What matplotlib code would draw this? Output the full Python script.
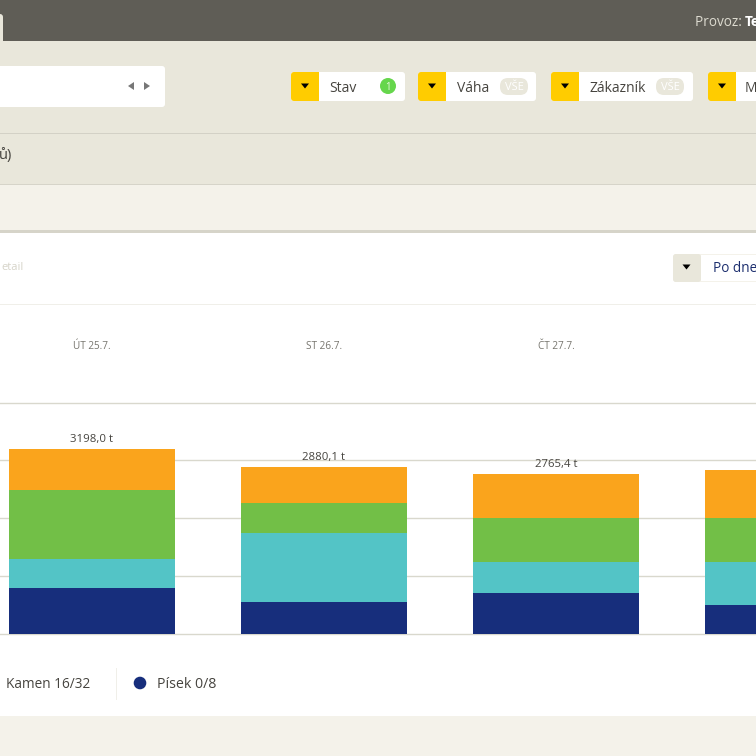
import matplotlib
matplotlib.use('Agg')
from matplotlib import pyplot as plt
from matplotlib.patches import Rectangle, FancyBboxPatch, Circle, Polygon
import numpy as np

# 4th day label falls outside the crop, only its bar shows
days = ['ÚT 25.7.', 'ST 26.7.', 'ČT 27.7.', '']
totals = ['3198,0 t', '2880,1 t', '2765,4 t', '']
pisek = [796, 554, 695, 487]
tealv = [493, 1180, 537, 745]
green = [1202, 530, 766, 766]
orange = [707, 616, 767, 842]
yticks = [0, 1000, 2000, 3000, 4000]

plt.rcParams['font.family'] = ['Open Sans', 'DejaVu Sans']
W = 756
fig = plt.figure(figsize=(W/100, W/100), dpi=100)

# page chrome, drawn in pixel coordinates
bg = fig.add_axes([0, 0, 1, 1])
bg.set_xlim(0, W)
bg.set_ylim(W, 0)
bg.axis('off')

def box(x, y, w, h, c, z=1):
    bg.add_patch(Rectangle((x, y), w, h, fc=c, ec='none', zorder=z))

def rbox(x, y, w, h, c, z=2, r=3):
    bg.add_patch(FancyBboxPatch((x+r, y+r), w-2*r, h-2*r, boxstyle='round,pad=%d' % r, fc=c, ec='none', zorder=z))

def tri(x, y, c='black', s=4):
    bg.add_patch(Polygon([(x-s, y-2.5), (x+s, y-2.5), (x, y+2.5)], fc=c, ec='none', zorder=4))

def filt(x, w, label, tx):
    rbox(x, 72, w, 29, 'white')
    rbox(x, 72, 28, 29, '#ffcc00')
    box(x+20, 72, 8, 29, '#ffcc00', 3)
    tri(x+14, 86)
    bg.text(tx, 88, label, fontsize=10, color='#46443f', va='center', zorder=5)

box(0, 0, W, 41, '#5f5d56')
box(0, 41, W, 92, '#e9e7db')
box(0, 133, W, 52, '#e9e7db')
box(0, 132.5, W, 1.5, '#d3d1c6', 3)
box(0, 184, W, 1.2, '#d6d4c9', 3)
box(0, 185, W, 46, '#f4f2ea')
box(0, 230, W, 2.5, '#d6d4c9', 3)
box(0, 232, W, 484, 'white')
box(0, 716, W, 40, '#f4f2ea')
rbox(-8, 14, 11, 40, '#e9e7db')

bg.text(695, 22, 'Provoz: ', fontsize=9.8, color='#dddbd0', va='center')
bg.text(745, 22, 'Te', fontsize=9.8, color='white', va='center', fontweight='bold', clip_on=True)

rbox(-10, 66, 175, 41, 'white')
bg.add_patch(Polygon([(128, 86), (134, 82), (134, 90)], fc='#777777', ec='none', zorder=4))
bg.add_patch(Polygon([(150, 86), (144, 82), (144, 90)], fc='#777777', ec='none', zorder=4))

filt(291, 114, 'Stav', 329)
filt(418, 118, 'Váha', 457)
filt(551, 142, 'Zákazník', 589)
filt(708, 60, 'M', 745)

bg.add_patch(Circle((388, 86), 8, fc='#66d64c', ec='none', zorder=4))
bg.text(388, 87, '1', fontsize=7, color='#e9f8e0', ha='center', va='center', zorder=5)
for cx in [514, 670]:
    rbox(cx-14, 78, 28, 17, '#e9e7db', 4, 8)
    bg.text(cx, 87, 'VŠE', fontsize=8, color='white', ha='center', va='center', zorder=5)

bg.text(-1, 155, 'ů)', fontsize=10.5, color='#46443f', va='center', clip_on=True)
bg.text(24, 267, 'etail', fontsize=8, color='#d6d4c9', ha='right', va='center', zorder=5)

rbox(673, 254, 90, 28, '#f4f2ea')
rbox(673, 254, 28, 28, '#e9e7db', 3)
box(701, 255, 60, 26, 'white', 4)
tri(686.5, 267)
bg.text(713, 268, 'Po dne', fontsize=9.8, color='#1c2e6e', va='center', zorder=5)

box(0, 304, W, 1, '#f0efe9', 3)

# legend under the chart
box(116, 668, 1, 32, '#f0efe9', 3)
bg.add_patch(Circle((140, 683), 6.3, fc='#172e7c', ec='none', zorder=4))
bg.text(6, 685, 'Kamen 16/32', fontsize=9.8, color='#46443f', va='center', zorder=5)
bg.text(157, 685, 'Písek 0/8', fontsize=10.2, color='#46443f', va='center', zorder=5)

# the chart itself
ax = fig.add_axes([0, (W-633.5)/W, 1, 230.8/W])
ax.patch.set_alpha(0)
x = np.arange(len(days))
ax.set_xlim(-92/232, (W-92)/232)
ax.set_ylim(0, yticks[-1])
for s in ax.spines.values():
    s.set_visible(False)
ax.set_yticks(yticks)
ax.set_xticks([])
ax.tick_params(left=False, labelleft=False)
ax.grid(axis='y', color='#d9d8cd', lw=1, clip_on=False)
ax.set_axisbelow(True)

pisek = np.array(pisek)
tealv = np.array(tealv)
green = np.array(green)
orange = np.array(orange)
width = 166.5/232
kw = dict(width=width, linewidth=0)
ax.bar(x, pisek, color='#172e7c', **kw)
ax.bar(x, tealv, bottom=pisek, color='#53c4c6', **kw)
ax.bar(x, green, bottom=pisek+tealv, color='#72bf47', **kw)
ax.bar(x, orange, bottom=pisek+tealv+green, color='#faa41c', **kw)

top = pisek+tealv+green+orange
for i in x:
    ax.annotate(totals[i], (i, top[i]), xytext=(0, 2.8), textcoords='offset points',
                ha='center', va='bottom', fontsize=8.2, color='#46443f')
    ax.text(i, 1.243, days[i], transform=ax.get_xaxis_transform(), ha='center', va='center',
            fontsize=7.2, color='#77756e')

fig.savefig('out.png', dpi=100)
